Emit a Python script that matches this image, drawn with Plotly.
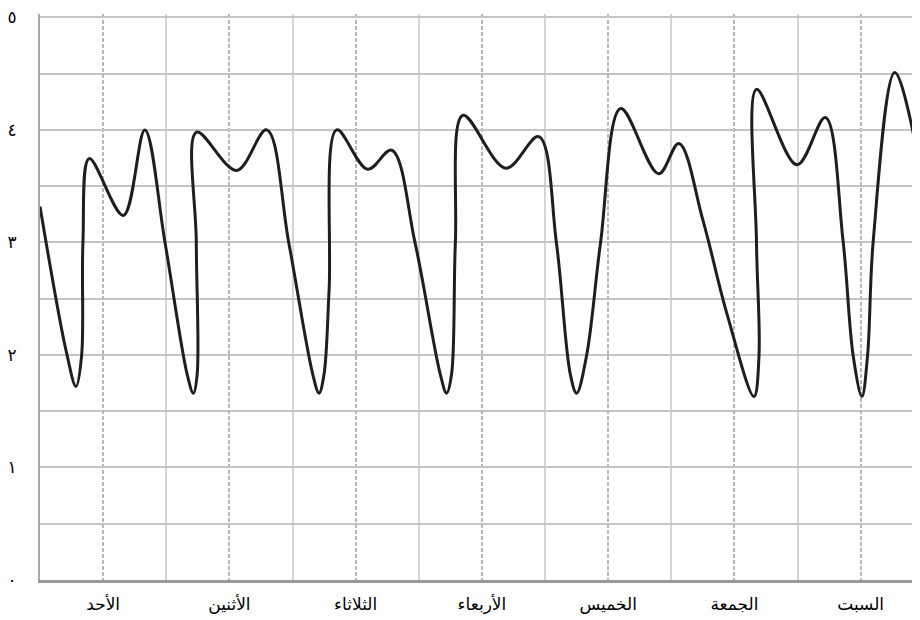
import plotly.graph_objects as go

# days of the week (x categories, one unit wide each)
days = ['الأحد', 'الأثنين', 'الثلاثاء', 'الأربعاء', 'الخميس', 'الجمعة', 'السبت']
day_pos = [0.5, 1.5, 2.5, 3.5, 4.5, 5.5, 6.5]
day_edges = [1, 2, 3, 4, 5, 6, 7]

y_ticks = [0, 1, 2, 3, 4, 5]
y_labels = ['٠', '١', '٢', '٣', '٤', '٥']

# points (x in day units, y value)
curve_x = [0.00, 0.21, 0.285, 0.33, 0.34, 0.39, 0.66, 0.83, 0.99, 1.165, 1.214,
           1.245, 1.238, 1.24, 1.557, 1.795, 1.97, 2.16, 2.21,
           2.25, 2.29, 2.35, 2.595, 2.785, 2.97, 3.17, 3.22,
           3.26, 3.29, 3.35, 3.69, 3.95, 4.09, 4.20, 4.25,
           4.33, 4.44, 4.60, 4.90, 5.06, 5.25, 5.44, 5.655,
           5.695, 5.675, 5.675, 5.996, 6.22, 6.36, 6.44, 6.51,
           6.555, 6.60, 6.77, 6.97]
curve_y = [3.32, 2.02, 1.72, 2.00, 3.00, 3.745, 3.24, 4.00, 3.00, 1.83, 1.66,
           1.83, 3.00, 3.98, 3.64, 4.00, 3.00, 1.83, 1.66,
           1.83, 2.58, 4.00, 3.65, 3.82, 3.00, 1.83, 1.66,
           1.83, 3.00, 4.13, 3.66, 3.94, 3.00, 1.83, 1.66,
           2.00, 3.00, 4.19, 3.61, 3.88, 3.20, 2.37, 1.63,
           2.00, 3.00, 4.36, 3.69, 4.11, 3.02, 2.00, 1.63,
           2.00, 3.02, 4.51, 3.67]


def make_figure():
    fig = go.Figure()
    fig.add_trace(
        go.Scatter(
            x=curve_x,
            y=curve_y,
            mode='lines',
            line=dict(color='#1e1e1e', width=3, shape='spline', smoothing=1),
            showlegend=False,
            hoverinfo='skip'
        )
    )

    # page body has an 8px margin, so the figure is sized to fit the window
    fig.update_layout(
        width=912,
        height=612,
        margin=dict(l=32, r=0, t=6, b=40, autoexpand=False),
        paper_bgcolor='white',
        plot_bgcolor='white',
        font=dict(family='DejaVu Sans, Arial', size=17, color='black')
    )

    fig.update_xaxes(
        range=[0, 6.97],
        automargin=False,
        tickvals=day_pos,
        ticktext=days,
        ticks='',
        ticklabelstandoff=7,
        ticklabeloverflow='allow',
        showgrid=True,
        gridcolor='#b6b6be',
        gridwidth=2,
        griddash='4px,2px',
        minor=dict(tickvals=day_edges, showgrid=True, gridcolor='#d4d4d4',
                   gridwidth=2, griddash='solid'),
        zeroline=False,
        showline=True,
        linecolor='#9a9a9a',
        linewidth=3,
        tickfont=dict(family='DejaVu Sans, Arial', size=17)
    )

    fig.update_yaxes(
        range=[0, 5.03],
        automargin=False,
        tickvals=y_ticks,
        ticktext=y_labels,
        ticks='',
        ticklabelstandoff=18,
        ticklabeloverflow='allow',
        showgrid=True,
        gridcolor='#c4c4c4',
        gridwidth=2,
        minor=dict(dtick=0.5, showgrid=True, gridcolor='#c4c4c4', gridwidth=2),
        zeroline=False,
        showline=True,
        linecolor='#a8a8a8',
        linewidth=2,
        tickfont=dict(family='DejaVu Sans, Arial', size=17)
    )
    return fig


def main():
    fig = make_figure()
    fig.write_html('out.html')


if __name__ == '__main__':
    main()
